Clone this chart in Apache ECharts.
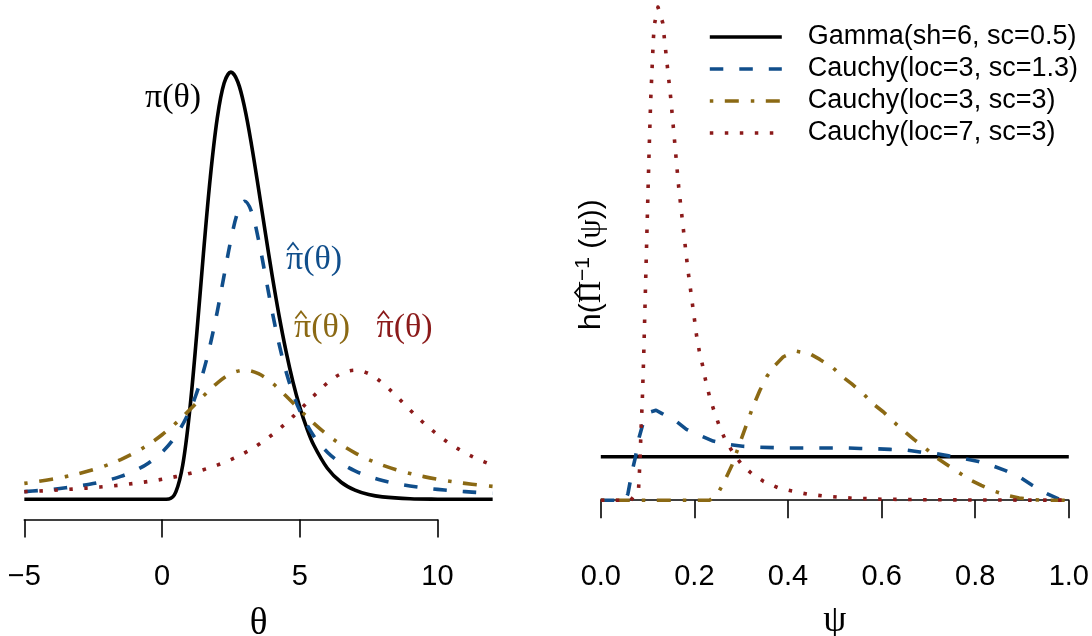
<!DOCTYPE html>
<html><head><meta charset="utf-8">
<script src="https://cdn.jsdelivr.net/npm/echarts@6/dist/echarts.min.js"></script>
<style>html,body{margin:0;padding:0;background:#fff}#c{width:1092px;height:636px}</style>
</head><body><div id="c"></div>
<script>
// ---------- names & ticks ----------
const seriesNames = ['Gamma(sh=6, sc=0.5)', 'Cauchy(loc=3, sc=1.3)', 'Cauchy(loc=3, sc=3)', 'Cauchy(loc=7, sc=3)'];
const thetaTicks = [-5, 0, 5, 10];
const thetaTickLabels = ['\u22125', '0', '5', '10'];
const psiTicks = [0, 0.2, 0.4, 0.6, 0.8, 1.0];
const psiTickLabels = ['0.0', '0.2', '0.4', '0.6', '0.8', '1.0'];

// ---------- left panel: densities over theta ----------
const thetaGamma = [-5,-4,-3,-2,-1,0,0.25,0.5,0.75,1,1.25,1.5,1.75,2,2.25,2.5,2.75,3,3.25,3.5,3.75,4,4.25,4.5,4.75,5,5.25,5.5,6,6.5,7,7.5,8,9,10,11,12];
const densGamma = [0,0,0,0,0,0,0.0003,0.0061,0.0282,0.0722,0.1336,0.2016,0.2643,0.3126,0.3417,0.3509,0.3428,0.3213,0.2907,0.2554,0.2188,0.1832,0.1505,0.1215,0.0965,0.0757,0.0586,0.0448,0.0255,0.0140,0.0075,0.0039,0.0020,0.0005,0.0001,0,0];

const thetaBlue = [-5,-4.5,-4,-3.5,-3,-2.5,-2,-1.5,-1,-0.5,0,0.5,1,1.25,1.5,1.75,2,2.25,2.5,2.75,3,3.25,3.5,3.75,4,4.25,4.5,4.75,5,5.5,6,6.5,7,7.5,8,8.5,9,9.5,10,10.5,11,11.5,12];
const densBlue = [0.00630,0.00714,0.00816,0.00942,0.01098,0.01296,0.01550,0.01886,0.02339,0.02968,0.03871,0.05212,0.07272,0.08707,0.10502,0.12723,0.15383,0.18371,0.21330,0.23612,0.24485,0.23612,0.21330,0.18371,0.15383,0.12723,0.10502,0.08707,0.07272,0.05212,0.03871,0.02968,0.02339,0.01886,0.01550,0.01296,0.01098,0.00942,0.00816,0.00714,0.00630,0.00560,0.00500];

const thetaWide = [-5,-4.5,-4,-3.5,-3,-2.5,-2,-1.5,-1,-0.5,0,0.5,1,1.5,2,2.5,3,3.5,4,4.5,5,5.5,6,6.5,7,7.5,8,8.5,9,9.5,10,10.5,11,11.5,12];
const densGold = [0.01308,0.01464,0.01646,0.01863,0.02122,0.02433,0.02809,0.03265,0.03820,0.04494,0.05305,0.06262,0.07346,0.08488,0.09549,0.10324,0.10610,0.10324,0.09549,0.08488,0.07346,0.06262,0.05305,0.04494,0.03820,0.03265,0.02809,0.02433,0.02122,0.01863,0.01646,0.01464,0.01308,0.01175,0.01061];
const densRed = [0.00624,0.00676,0.00735,0.00801,0.00876,0.00962,0.01061,0.01175,0.01308,0.01464,0.01646,0.01863,0.02122,0.02433,0.02809,0.03265,0.03820,0.04494,0.05305,0.06262,0.07346,0.08488,0.09549,0.10324,0.10610,0.10324,0.09549,0.08488,0.07346,0.06262,0.05305,0.04494,0.03820,0.03265,0.02809];

// ---------- right panel: h(Pi^-1(psi)) ----------
const psiBlack = [0, 1];
const hBlack = [1, 1];
const psiBlue = [0,0.052,0.058,0.062,0.069,0.074,0.082,0.089,0.097,0.105,0.118,0.130,0.147,0.163,0.183,0.200,0.216,0.240,0.276,0.303,0.340,0.369,0.402,0.50,0.529,0.554,0.593,0.618,0.655,0.682,0.718,0.743,0.780,0.807,0.840,0.865,0.898,0.921,0.953,0.978,1.0];
const hBlue = [0,0,0.15,0.38,0.76,0.99,1.45,1.72,1.93,2.03,2.07,2.00,1.90,1.80,1.63,1.54,1.47,1.36,1.28,1.24,1.22,1.21,1.20,1.20,1.20,1.19,1.18,1.17,1.15,1.11,1.07,1.02,0.95,0.89,0.78,0.68,0.51,0.35,0.15,0.03,0];
const psiGold = [0,0.233,0.25,0.265,0.28,0.295,0.31,0.325,0.34,0.355,0.37,0.39,0.417,0.447,0.468,0.495,0.518,0.537,0.561,0.584,0.604,0.625,0.648,0.669,0.693,0.716,0.739,0.763,0.789,0.813,0.840,0.869,0.894,0.924,0.95,1.0];
const hGold = [0,0,0.15,0.45,0.80,1.25,1.70,2.15,2.53,2.85,3.08,3.30,3.43,3.37,3.24,3.06,2.83,2.67,2.45,2.20,2.03,1.81,1.59,1.40,1.20,0.99,0.82,0.65,0.47,0.34,0.21,0.11,0.05,0.01,0,0];
const psiRed = [0,0.064,0.0805,0.0838,0.0859,0.0887,0.0917,0.1009,0.1036,0.1066,0.1094,0.1122,0.1143,0.1222,0.1323,0.1494,0.1665,0.1857,0.2049,0.2105,0.2177,0.2241,0.2318,0.2412,0.2519,0.2639,0.2797,0.2989,0.3216,0.3481,0.378,0.4085,0.4406,0.4726,0.504,0.536,0.568,0.600,0.7,0.8,0.9,1.0];
const hRed = [0,0,0.22,0.91,1.61,2.30,3.33,7.13,8.17,9.21,9.90,10.59,10.94,11.35,10.99,9.26,7.20,5.34,3.77,3.43,3.09,2.75,2.41,2.08,1.75,1.44,1.14,0.85,0.62,0.43,0.29,0.21,0.14,0.10,0.074,0.046,0.035,0.023,0.01,0.005,0.002,0];

// ---------- styles ----------
const colors = ['#000000', '#104E8B', '#8B6914', '#8B1A1A'];
const dashes = ['solid', [13.5, 16], [3.5, 11.5, 14, 12], [3.5, 11.5]];
const LW = 3.6;
const SANS = 'Liberation Sans';
const SERIF = 'Liberation Serif';

function pairs(xs, ys) { return xs.map((x, i) => [x, ys[i]]); }
function mkSeries(i, xIdx, data, smooth) {
  return {
    type: 'line', name: seriesNames[i], xAxisIndex: xIdx, yAxisIndex: xIdx,
    data: data, symbol: 'none', smooth: smooth, clip: false, silent: true,
    lineStyle: { color: colors[i], width: LW, type: dashes[i], join: 'round' },
    itemStyle: { color: colors[i] }, z: 2 + i
  };
}

const leftData = [pairs(thetaGamma, densGamma), pairs(thetaBlue, densBlue), pairs(thetaWide, densGold), pairs(thetaWide, densRed)];
const rightData = [pairs(psiBlack, hBlack), pairs(psiBlue, hBlue), pairs(psiGold, hGold), pairs(psiRed, hRed)];

const series = [];
leftData.forEach((d, i) => series.push(mkSeries(i, 0, d, 0.35)));
rightData.forEach((d, i) => series.push(mkSeries(i, 2, d, false)));

const hiddenAxisParts = { axisLine: { show: false }, axisTick: { show: false }, axisLabel: { show: false }, splitLine: { show: false } };
const axisStyle = {
  axisLine: { show: true, lineStyle: { color: '#000', width: 1.6 } },
  axisTick: { show: true, length: 18, lineStyle: { color: '#000', width: 1.6 } },
  splitLine: { show: false }
};
const labelFont = { color: '#000', fontFamily: SANS, fontSize: 29, margin: 43 };
const nameFont = { color: '#000', fontFamily: SERIF, fontSize: 37 };

// math labels pi-hat(theta): text + drawn hat
function mathLabel(left, cy, color, withHat) {
  const els = [{ type: 'text', x: left, y: cy, silent: true, z: 20,
    style: { text: '\u03C0(\u03B8)', fill: color, font: '34px "Liberation Serif"', align: 'left', verticalAlign: 'middle' } }];
  if (withHat) {
    els.push({ type: 'polyline', silent: true, z: 20,
      shape: { points: [[left + 1.5, cy - 10], [left + 7, cy - 17], [left + 12.5, cy - 10]] },
      style: { stroke: color, lineWidth: 1.8, fill: null } });
  }
  return els;
}

const graphics = [].concat(
  mathLabel(145, 98, colors[0], false),
  mathLabel(286, 260, colors[1], true),
  mathLabel(294, 328.5, colors[2], true),
  mathLabel(376.5, 328.5, colors[3], true),
  [{
    type: 'group', x: 590, y: 264, rotation: Math.PI / 2, silent: true,
    children: [
      { type: 'text', x: -66, y: 0, silent: true,
        style: {
          text: '{a|h(}{b|\u03A0}{c|\u22121}{a| (}{b|\u03C8}{a|))}',
          align: 'left', verticalAlign: 'middle', fill: '#000',
          rich: {
            a: { fontFamily: SANS, fontSize: 30, lineHeight: 34, verticalAlign: 'bottom', fill: '#000' },
            b: { fontFamily: SERIF, fontSize: 31, lineHeight: 34, verticalAlign: 'bottom', fill: '#000' },
            c: { fontFamily: SANS, fontSize: 21, lineHeight: 21, verticalAlign: 'top', padding: [0, 0, 40, 0], fill: '#000' }
          }
        } },
      { type: 'polyline', silent: true,
        shape: { points: [[-36.5, -8], [-28.5, -15], [-20.5, -8]] },
        style: { stroke: '#000', lineWidth: 1.8, fill: null } }
    ]
  }]
);

const option = {
  animation: false,
  backgroundColor: '#ffffff',
  grid: [
    { left: 5.6, top: 30, width: 505.8, height: 489.5, outerBoundsMode: 'none', containLabel: false },
    { left: 24.3, top: 30, width: 413.2, height: 489.5, outerBoundsMode: 'none', containLabel: false },
    { left: 600.8, top: 0, width: 468, height: 519.5, outerBoundsMode: 'none', containLabel: false }
  ],
  xAxis: [
    Object.assign({ type: 'value', gridIndex: 0, min: -5.68, max: 12.68, name: '\u03B8', nameLocation: 'middle', nameGap: 86,
      nameMoveOverlap: false, nameTextStyle: nameFont }, hiddenAxisParts),
    Object.assign({ type: 'value', gridIndex: 1, min: -5, max: 10, interval: 5,
      axisLabel: Object.assign({ formatter: v => { const k = thetaTicks.indexOf(v); return k >= 0 ? thetaTickLabels[k] : ''; } }, labelFont) }, axisStyle),
    Object.assign({ type: 'value', gridIndex: 2, min: 0, max: 1, interval: 0.2, name: '\u03C8', nameLocation: 'middle', nameGap: 83,
      nameMoveOverlap: false, nameTextStyle: nameFont,
      axisLabel: Object.assign({ formatter: v => { const k = psiTicks.findIndex(t => Math.abs(t - v) < 1e-9); return k >= 0 ? psiTickLabels[k] : ''; } }, labelFont) }, axisStyle)
  ],
  yAxis: [
    Object.assign({ type: 'value', gridIndex: 0, min: -0.01659, max: 0.38553 }, hiddenAxisParts),
    { type: 'value', gridIndex: 1, min: 0, max: 1, show: false },
    Object.assign({ type: 'value', gridIndex: 2, min: -0.4447, max: 11.514 }, hiddenAxisParts)
  ],
  legend: {
    orient: 'vertical', left: 708, top: 21, padding: 0, itemGap: 0,
    itemWidth: 72, itemHeight: 16,
    data: seriesNames,
    selectedMode: false,
    itemStyle: { opacity: 0, borderWidth: 0 },
    lineStyle: { width: LW },
    textStyle: { color: '#000', fontFamily: SANS, fontSize: 27, lineHeight: 32, padding: [0, 0, 0, 21] }
  },
  graphic: graphics,
  series: series
};

const chart = echarts.init(document.getElementById('c'), null, { renderer: 'canvas' });
chart.setOption(option);
</script>
</body></html>
